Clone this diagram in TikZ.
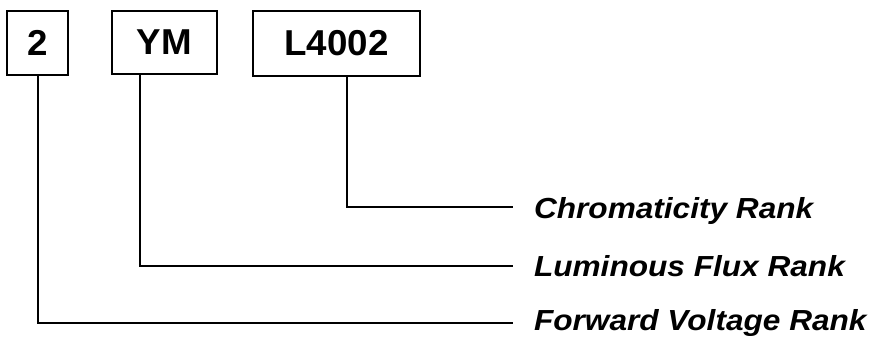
\documentclass[tikz,border=0pt]{standalone}
\usepackage{fontspec}
\setmainfont{Liberation Sans}
\newfontfamily\rankfont[FakeStretch=1.09]{Liberation Sans}
\newfontfamily\codefont[FakeStretch=1.02]{Liberation Sans}
\usetikzlibrary{calc, positioning}

\begin{document}
\begin{tikzpicture}[x=1pt, y=-1pt, line width=2pt]
        \useasboundingbox (0, 0) rectangle (872, 343);

        \tikzstyle{b} = [draw, inner sep=0, font=\codefont\bfseries\fontsize{36}{42}\selectfont];
        \tikzstyle{r} = [anchor=base west, inner sep=0, font=\rankfont\bfseries\itshape\fontsize{29}{33}\selectfont];

        \node [b, minimum width=61, minimum height=64] (B1) at (37.5, 43) {2};
        \node [b, minimum width=105, minimum height=63] (B2) at (164.5, 42.5) {YM};
        \node [b, minimum width=167, minimum height=65] (B3) at (336.5, 43) {L4002};

        \node [r] (L1) at (533, 218) {Chromaticity Rank};
        \node [r] (L2) at (533, 276) {Luminous Flux Rank};
        \node [r] (L3) at (533, 330) {Forward Voltage Rank};

        \coordinate (F1) at (B1.south);
        \coordinate (F2) at ($(B2.south west) + (29, 0)$);
        \coordinate (F3) at ($(B3.south west) + (95, 0)$);

        \coordinate (E1) at ($(L1.base west) + (-20, -11)$);
        \coordinate (E2) at ($(L2.base west) + (-20, -10)$);
        \coordinate (E3) at ($(L3.base west) + (-20, -7)$);

        \foreach \n/\m in {1/3, 2/2, 3/1}{
            \draw (F\n) |- (E\m);
        }
    \end{tikzpicture}
\end{document}
